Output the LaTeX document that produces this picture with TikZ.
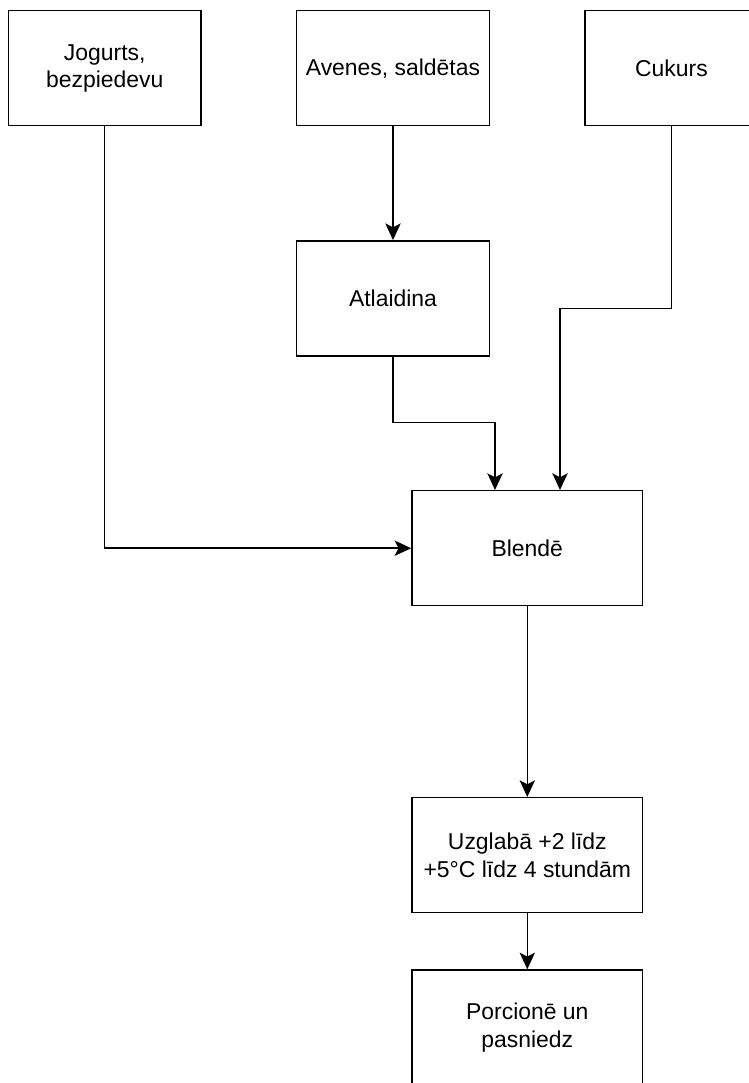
\documentclass[tikz,border=0pt]{standalone}
\usepackage{fontspec}
\setmainfont{Liberation Sans}
\usetikzlibrary{arrows.meta}

\tikzset{
  box/.style={draw, line width=1.1pt, align=center, inner sep=0pt,
    minimum width=144.45pt, minimum height=86.25pt,
    font=\fontsize{17.2}{20.5}\selectfont},
  widebox/.style={box, minimum width=173pt},
  arr/.style={line width=1.1pt, -{Stealth[length=12.5pt, width=11.5pt, inset=3pt]}}
}

\begin{document}
\begin{tikzpicture}[x=0.75pt,y=-0.75pt]
		\useasboundingbox (0,0) rectangle (749,1083);
		% ingredients
		\node[box] (jog) at (104.75,68.2) {Jogurts,\\bezpiedevu};
		\node[box] (ave) at (393,68.2) {Avenes, saldētas};
		\node[box, minimum width=129.75pt] (cuk) at (671.5,68.2) {Cukurs};
		% steps
		\node[box] (atl) at (393,298.3) {Atlaidina};
		\node[widebox] (ble) at (527.3,548.2) {Blendē};
		\node[widebox] (uzg) at (527.3,855.2) {Uzglabā +2 līdz\\+5°C līdz 4 stundām};
		\node[widebox] (por) at (527.3,1027.5) {Porcionē un\\pasniedz};
		% bend points
		\coordinate (a1) at (495,422.7);
		\coordinate (c1) at (560,308.3);
		\draw[arr] (jog.south) |- (ble.west);
		\draw[arr] (ave) -- (atl);
		\draw[arr] (atl.south) |- (a1) -- (a1 |- ble.north);
		\draw[arr] (cuk.south) |- (c1) -- (c1 |- ble.north);
		\draw[arr] (ble) -- (uzg);
		\draw[arr] (uzg) -- (por);
	\end{tikzpicture}
\end{document}
